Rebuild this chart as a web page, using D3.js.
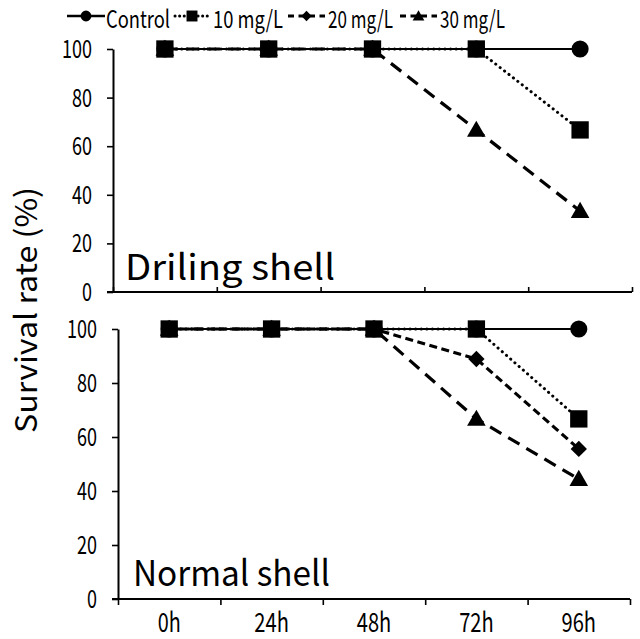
<!DOCTYPE html>
<html>
<head>
<meta charset="utf-8">
<script src="https://cdn.jsdelivr.net/npm/d3@7"></script>
<style>
  body { margin: 0; background: #fff; }
  text { font-family: "Noto Sans CJK JP", "Noto Sans", sans-serif; fill: #000; }
</style>
</head>
<body>
<div id="chart"></div>
<script>
// categorias e séries
const times = ['0h', '24h', '48h', '72h', '96h'];
const seriesNames = ['Control', '10 mg/L', '20 mg/L', '30 mg/L'];
const yTicks = [0, 20, 40, 60, 80, 100];

// Driling shell
const drilControl = [100, 100, 100, 100, 100];
const dril10 = [100, 100, 100, 100, 66.7];
const dril20 = [null, null, null, null, null];
const dril30 = [100, 100, 100, 66.7, 33.3];

// Normal shell
const normControl = [100, 100, 100, 100, 100];
const norm10 = [100, 100, 100, 100, 66.7];
const norm20 = [100, 100, 100, 88.9, 55.6];
const norm30 = [100, 100, 100, 66.7, 44.4];

const styles = {
  'Control': { dash: null, width: 2, sym: d3.symbolCircle, size: 230, cap: 'butt' },
  '10 mg/L': { dash: '0.1,5.5', width: 3, sym: d3.symbolSquare, size: 300, cap: 'round' },
  '20 mg/L': { dash: '8,4.5', width: 3.2, sym: d3.symbolDiamond2, size: 170, cap: 'butt' },
  '30 mg/L': { dash: '13,8', width: 3.2, sym: d3.symbolTriangle, size: 150, cap: 'butt' }
};
// ordem de desenho dos marcadores (quadrado por cima)
const markerOrder = ['Control', '20 mg/L', '30 mg/L', '10 mg/L'];

const W = 640, H = 639;
const svg = d3.select('#chart').append('svg')
  .attr('width', W).attr('height', H);

function panel(cfg) {
  const { left, right, top, bottom, data, label, labelX, labelY, labelLen, tickDir, showLabels } = cfg;

  const x = d3.scaleBand().domain(times).range([left, right]);
  const xEdge = d3.scaleLinear().domain([0, times.length]).range([left, right]);
  const y = d3.scaleLinear().domain([0, 100]).range([bottom, top]);
  const g = svg.append('g');

  // eixo X
  const xAxis = g.append('g')
    .attr('transform', `translate(0,${bottom})`)
    .call(d3.axisBottom(xEdge).tickValues(d3.range(times.length + 1))
      .tickSize(tickDir === 'in' ? -5 : 6).tickSizeOuter(0).tickFormat(''));
  xAxis.select('.domain').attr('stroke-width', 2).attr('d', `M${left - 6},0H${right}`);
  xAxis.selectAll('.tick line').attr('stroke-width', 1.6);

  // eixo Y
  const yAxis = g.append('g')
    .attr('transform', `translate(${left},0)`)
    .call(d3.axisLeft(y).tickValues(yTicks).tickSize(6).tickSizeOuter(0).tickPadding(15));
  yAxis.select('.domain').attr('stroke-width', 2);
  yAxis.selectAll('.tick line').attr('stroke-width', 1.6);
  yAxis.selectAll('.tick text')
    .attr('font-size', 25)
    .attr('dy', '0.34em')
    .attr('font-family', '"Noto Sans CJK JP", sans-serif')
    .attr('textLength', d => String(d).length * 10)
    .attr('lengthAdjust', 'spacingAndGlyphs');

  if (showLabels) {
    g.selectAll('text.xlab').data(times).enter().append('text')
      .attr('class', 'xlab')
      .attr('x', d => x(d) + x.bandwidth() / 2)
      .attr('y', 632)
      .attr('text-anchor', 'middle')
      .attr('font-size', 27)
      .attr('textLength', d => d.length * 11.5)
      .attr('lengthAdjust', 'spacingAndGlyphs')
      .text(d => d);
  }

  // linhas
  const line = d3.line()
    .defined(d => d.v != null)
    .x(d => x(d.t) + x.bandwidth() / 2)
    .y(d => y(d.v));

  seriesNames.forEach((name, i) => {
    const pts = times.map((t, k) => ({ t, v: data[i][k] }));
    const s = styles[name];
    g.append('path')
      .datum(pts)
      .attr('d', line)
      .attr('fill', 'none')
      .attr('stroke', '#000')
      .attr('stroke-width', s.width)
      .attr('stroke-linecap', s.cap)
      .attr('stroke-dasharray', s.dash);
  });

  // marcadores
  markerOrder.forEach(name => {
    const i = seriesNames.indexOf(name);
    const s = styles[name];
    const pts = times.map((t, k) => ({ t, v: data[i][k] })).filter(d => d.v != null);
    g.selectAll(null).data(pts).enter().append('path')
      .attr('d', d3.symbol().type(s.sym).size(s.size))
      .attr('transform', d => `translate(${x(d.t) + x.bandwidth() / 2},${y(d.v) + (name === '30 mg/L' ? 1.5 : 0)})`)
      .attr('fill', '#000');
  });

  // rótulo do painel
  g.append('text')
    .attr('x', labelX).attr('y', labelY)
    .attr('font-size', 35)
    .attr('textLength', labelLen)
    .attr('lengthAdjust', 'spacingAndGlyphs')
    .text(label);
}

panel({
  left: 113, right: 632, top: 49, bottom: 292,
  data: [drilControl, dril10, dril20, dril30],
  label: 'Driling shell', labelX: 125, labelY: 280, labelLen: 210,
  tickDir: 'in', showLabels: false
});

panel({
  left: 118, right: 630, top: 329, bottom: 599,
  data: [normControl, norm10, norm20, norm30],
  label: 'Normal shell', labelX: 133, labelY: 586, labelLen: 197,
  tickDir: 'out', showLabels: true
});

// título do eixo Y
svg.append('text')
  .attr('transform', 'translate(37,310) rotate(-90)')
  .attr('text-anchor', 'middle')
  .attr('font-size', 30)
  .attr('textLength', 246)
  .attr('lengthAdjust', 'spacingAndGlyphs')
  .text('Survival rate (%)');

// legenda
const legend = [
  { name: 'Control', x0: 67, x1: 105, tx: 106, tl: 64 },
  { name: '10 mg/L', x0: 175, x1: 209, tx: 213, tl: 70 },
  { name: '20 mg/L', x0: 288, x1: 325, tx: 328, tl: 65 },
  { name: '30 mg/L', x0: 400, x1: 437, tx: 440, tl: 65 }
];
const ly = 16;
legend.forEach(l => {
  const s = styles[l.name];
  svg.append('line')
    .attr('x1', l.x0).attr('x2', l.x1).attr('y1', ly).attr('y2', ly)
    .attr('stroke', '#000')
    .attr('stroke-width', l.name === 'Control' ? 2.5 : 3)
    .attr('stroke-linecap', s.cap)
    .attr('stroke-dasharray', l.name === '10 mg/L' ? '0.1,4.5' : (l.name === 'Control' ? null : '6,4.5'));
  svg.append('path')
    .attr('d', d3.symbol().type(s.sym).size(s.size * 0.4))
    .attr('transform', `translate(${(l.x0 + l.x1) / 2},${ly + (l.name === '30 mg/L' ? 1 : 0)})`)
    .attr('fill', '#000');
  svg.append('text')
    .attr('x', l.tx).attr('y', 28)
    .attr('font-size', 24)
    .attr('textLength', l.tl)
    .attr('lengthAdjust', 'spacingAndGlyphs')
    .text(l.name);
});
</script>
</body>
</html>
